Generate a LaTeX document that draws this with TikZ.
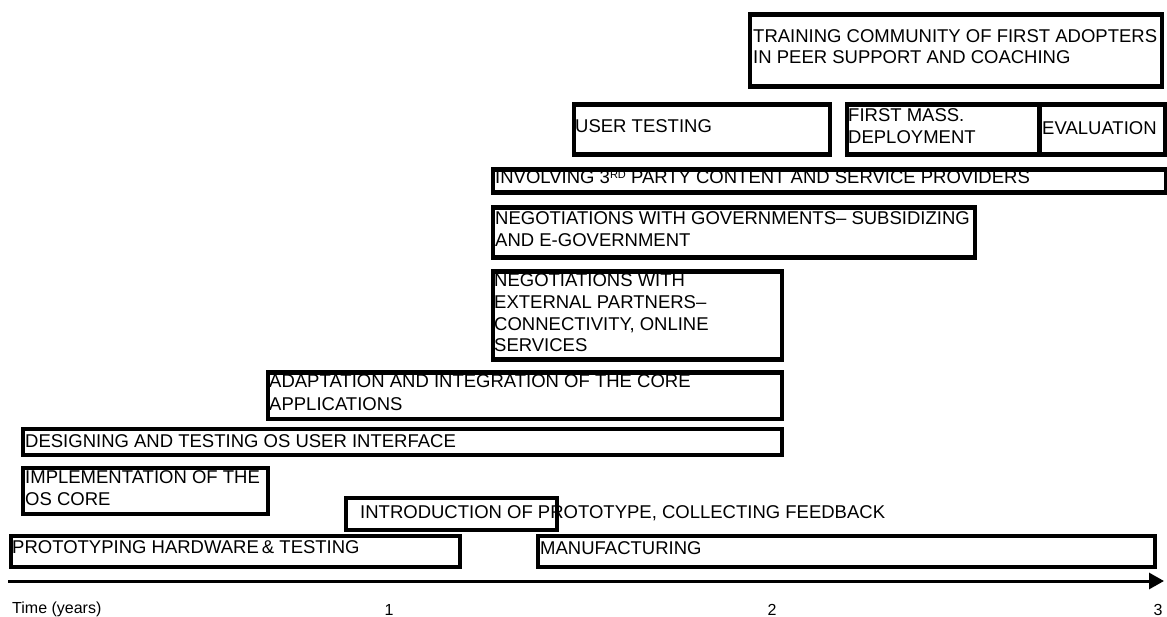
\documentclass[tikz,border=0pt]{standalone}
\usepackage{fontspec}
\setmainfont{Liberation Sans}
\usetikzlibrary{arrows.meta}

\begin{document}
\begin{tikzpicture}[x=1pt,y=-1pt,
  bar/.style={draw=black, line width=4.5pt, rectangle, inner sep=0pt, anchor=north west},
  txt/.style={inner sep=0pt, anchor=base west, font=\fontsize{18.5}{21.5}\selectfont},
  tick/.style={inner sep=0pt, anchor=base, font=\fontsize{16}{19}\selectfont},
  axis/.style={line width=3pt, -{Triangle[length=15pt,width=16pt]}}]
\useasboundingbox (0,0) rectangle (1167,617);

% ---- activity bars (stroke centre coordinates) ----
\node[bar, minimum width=412pt, minimum height=72pt] (train) at (747.5,12.5) {};
\node[txt] (train-1) at (753,43) {TRAINING COMMUNITY OF FIRST ADOPTERS};
\node[txt] (train-2) at (753,64) {IN PEER SUPPORT AND COACHING};

\node[bar, minimum width=256pt, minimum height=50pt] (usertest) at (571.5,102.5) {};
\node[txt] (usertest-1) at (575,133) {USER TESTING};

\node[bar, minimum width=192.5pt, minimum height=50pt] (deploy) at (844.5,102.5) {};
\node[txt] (deploy-1) at (848,122) {FIRST MASS.};
\node[txt] (deploy-2) at (848,144) {DEPLOYMENT};

\node[bar, minimum width=125.5pt, minimum height=50pt] (eval) at (1037,102.5) {};
\node[txt] (eval-1) at (1042,135) {EVALUATION};

\node[bar, minimum width=673pt, minimum height=23pt] (involve) at (490.5,167.5) {};
\node[txt] (involve-1) at (495,184)
  {INVOLVING 3\raisebox{5pt}{\fontsize{11}{11}\selectfont RD} PARTY CONTENT AND SERVICE PROVIDERS};

\node[bar, minimum width=482pt, minimum height=50pt] (gov) at (490.5,205.5) {};
\node[txt] (gov-1) at (495,225) {NEGOTIATIONS WITH GOVERNMENTS– SUBSIDIZING};
\node[txt] (gov-2) at (495,247) {AND E-GOVERNMENT};

\node[bar, minimum width=289pt, minimum height=88pt] (ext) at (490.5,269.5) {};
\node[txt] (ext-1) at (494,287) {NEGOTIATIONS WITH};
\node[txt] (ext-2) at (494,309) {EXTERNAL PARTNERS–};
\node[txt] (ext-3) at (494,331) {CONNECTIVITY, ONLINE};
\node[txt] (ext-4) at (494,352) {SERVICES};

\node[bar, minimum width=514pt, minimum height=46pt] (adapt) at (265.5,370.5) {};
\node[txt] (adapt-1) at (269,388) {ADAPTATION AND INTEGRATION OF THE CORE};
\node[txt] (adapt-2) at (269,410) {APPLICATIONS};

\node[bar, minimum width=759pt, minimum height=26pt] (design) at (20.5,426.5) {};
\node[txt] (design-1) at (25,447) {DESIGNING AND TESTING OS USER INTERFACE};

\node[bar, minimum width=245pt, minimum height=46pt] (impl) at (20.5,465.5) {};
\node[txt] (impl-1) at (25,483) {IMPLEMENTATION OF THE};
\node[txt] (impl-2) at (25,505) {OS CORE};

% the label runs past the right edge of its bar, which is drawn over it
\node[txt] (intro-1) at (360,518) {INTRODUCTION OF PROTOTYPE, COLLECTING FEEDBACK};
\node[bar, minimum width=211pt, minimum height=32pt] (intro) at (343.5,495.5) {};

\node[bar, minimum width=449pt, minimum height=31pt] (proto) at (8.5,533.5) {};
\node[txt] (proto-1) at (12,553) {PROTOTYPING HARDWARE\,\& TESTING};

\node[bar, minimum width=617pt, minimum height=31pt] (manuf) at (535.5,533.5) {};
\node[txt] (manuf-1) at (540,554) {MANUFACTURING};

% ---- time axis ----
\coordinate (ax-start) at (8,581);
\coordinate (ax-end) at (1164,581);
\draw[axis] (ax-start) -- (ax-end);

\node[tick, anchor=base west] (t-label) at (12,613) {Time (years)};
\node[tick] (t-1) at (389,615.5) {1};
\node[tick] (t-2) at (772,615.5) {2};
\node[tick] (t-3) at (1158,615.5) {3};
\end{tikzpicture}
\end{document}
